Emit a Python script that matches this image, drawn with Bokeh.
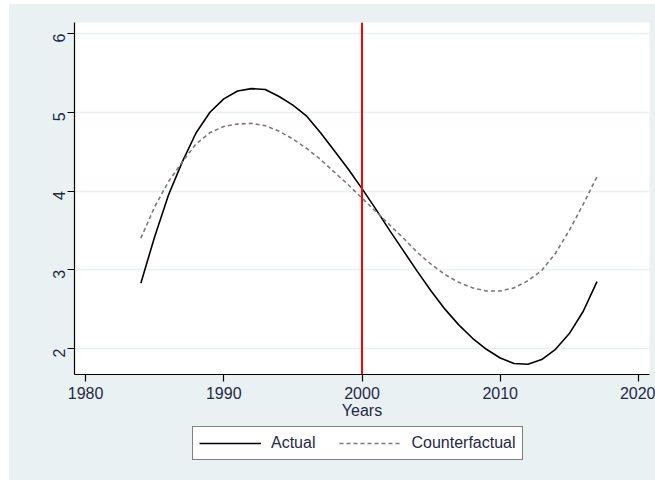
from bokeh.plotting import figure
from bokeh.models import Span, Legend, LegendItem, ColumnDataSource, FixedTicker
from bokeh.layouts import column
from bokeh.embed import file_html
from bokeh.resources import INLINE
import math

years = list(range(1984, 2018))
actual = [2.83, 3.42, 3.95, 4.37, 4.74, 5.00, 5.17, 5.27, 5.30, 5.29, 5.20, 5.09,
          4.95, 4.74, 4.51, 4.28, 4.03, 3.77, 3.50, 3.24, 2.98, 2.73, 2.50, 2.30,
          2.13, 1.99, 1.88, 1.81, 1.80, 1.86, 1.99, 2.19, 2.47, 2.85]
counterfactual = [3.40, 3.80, 4.12, 4.37, 4.60, 4.74, 4.82, 4.85, 4.86, 4.83, 4.76, 4.66,
                  4.54, 4.40, 4.24, 4.08, 3.91, 3.74, 3.57, 3.40, 3.22, 3.07, 2.94, 2.84,
                  2.77, 2.73, 2.73, 2.77, 2.86, 2.99, 3.21, 3.50, 3.83, 4.18]
treatment_year = 2000
x_ticks = [1980, 1990, 2000, 2010, 2020]
y_ticks = [2, 3, 4, 5, 6]
x_label = "Years"
series_names = ["Actual", "Counterfactual"]

BG = "#EAF1F3"
TXT = "#1e2a44"
FONT = "Liberation Sans"
SOLID = dict(line_color="black", line_width=1.6)
DASHED = dict(line_color="#7a7a7a", line_width=1.6, line_dash="4 3")

src = ColumnDataSource(dict(year=years, actual=actual, cf=counterfactual))

# main chart
p = figure(width=646, height=420, output_backend="svg", toolbar_location=None,
           x_range=(1979.2, 2020.8), y_range=(1.67, 6.14),
           min_border_left=65, min_border_top=18, min_border_right=6, min_border_bottom=50)
p.background_fill_color = "white"
p.border_fill_color = BG
p.outline_line_color = None

r1 = p.line("year", "actual", source=src, **SOLID)
r2 = p.line("year", "cf", source=src, **DASHED)

p.add_layout(Span(location=treatment_year, dimension="height", line_color="#ff0000", line_width=2))

p.xgrid.grid_line_color = None
p.ygrid.grid_line_color = BG
p.ygrid.grid_line_width = 1.5

p.xaxis.ticker = FixedTicker(ticks=x_ticks)
p.yaxis.ticker = FixedTicker(ticks=y_ticks)
for ax in (p.xaxis[0], p.yaxis[0]):
    ax.axis_line_color = "black"
    ax.axis_line_width = 1.2
    ax.major_tick_line_color = "black"
    ax.major_tick_line_width = 1.2
    ax.major_tick_out = 7
    ax.major_tick_in = 0
    ax.minor_tick_line_color = None
    ax.major_label_text_font = FONT
    ax.major_label_text_font_size = "16px"
    ax.major_label_text_color = TXT
p.xaxis.major_label_standoff = 5
p.yaxis.major_label_standoff = 8
p.yaxis.major_label_orientation = math.pi / 2
p.xaxis.axis_label = x_label
p.xaxis.axis_label_text_font = FONT
p.xaxis.axis_label_text_font_size = "16px"
p.xaxis.axis_label_text_font_style = "normal"
p.xaxis.axis_label_text_color = TXT
p.xaxis.axis_label_standoff = 0

# legend strip (same series, drawn off-range so only the legend shows)
lg = figure(width=646, height=56, output_backend="svg", toolbar_location=None,
            x_range=(5000, 5001), y_range=(1.67, 6.14),
            x_axis_location=None, y_axis_location=None,
            min_border_left=65, min_border_right=6, min_border_top=0, min_border_bottom=0)
lg.background_fill_alpha = 0.0
lg.border_fill_color = BG
lg.border_fill_alpha = 1.0
lg.outline_line_color = None
lg.grid.visible = False
l1 = lg.line("year", "actual", source=src, **SOLID)
l2 = lg.line("year", "cf", source=src, **DASHED)

legend = Legend(items=[LegendItem(label=series_names[0], renderers=[l1]),
                       LegendItem(label=series_names[1], renderers=[l2])],
                orientation="horizontal", location=(118, 20))
legend.glyph_width = 62
legend.glyph_height = 20
legend.label_height = 20
legend.label_standoff = 10
legend.spacing = 24
legend.padding = 6
legend.margin = 0
legend.border_line_color = "black"
legend.border_line_width = 1.2
legend.background_fill_color = "white"
legend.background_fill_alpha = 1
legend.label_text_font = FONT
legend.label_text_font_size = "16px"
legend.label_text_color = TXT
lg.add_layout(legend, "center")

layout = column(p, lg, spacing=0, styles={"background-color": BG})
layout.margin = (4, 0, 0, 9)
open("out.html", "w").write(file_html(layout, INLINE))
